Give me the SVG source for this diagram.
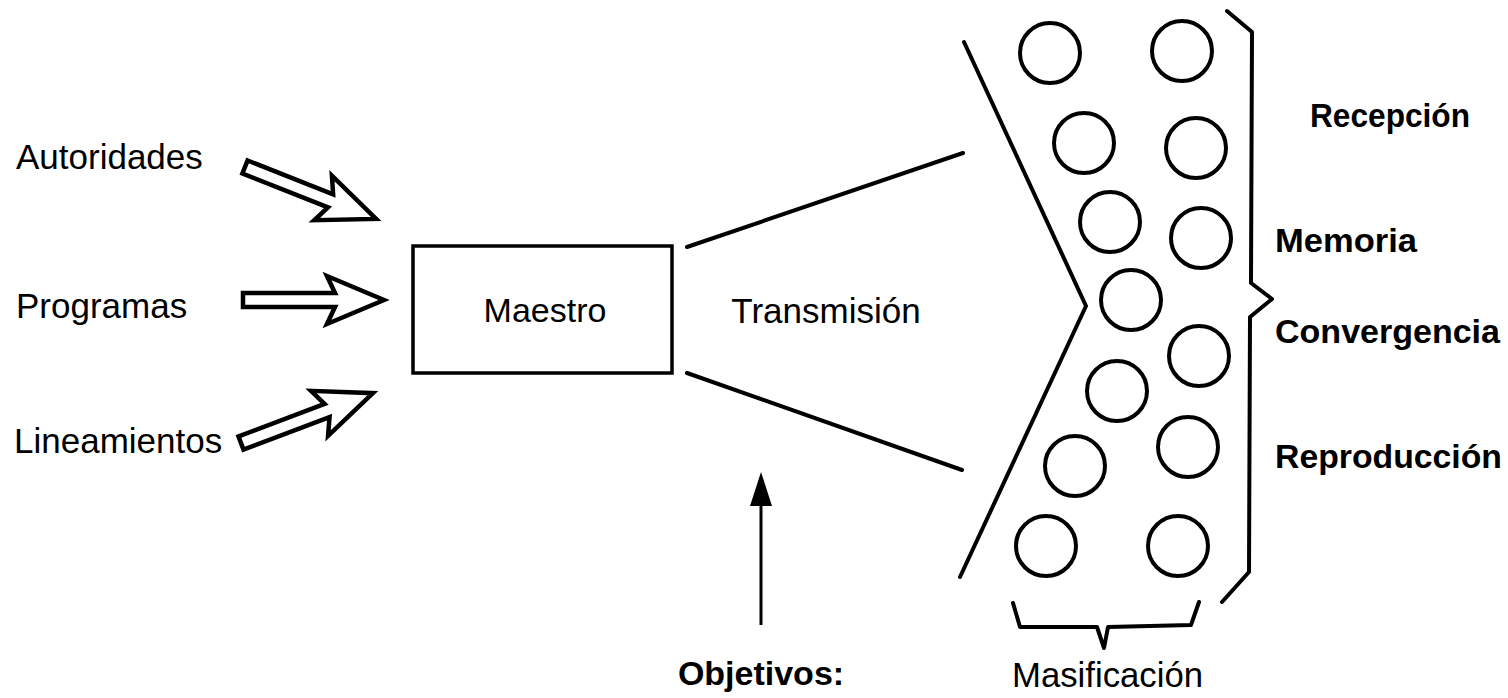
<svg xmlns="http://www.w3.org/2000/svg" width="1508" height="698" viewBox="0 0 1508 698">
<style>
.ln{fill:none;stroke:#000;stroke-width:4;stroke-linecap:round;stroke-linejoin:round}
.c{fill:none;stroke:#000;stroke-width:4}
.t{font-family:"Liberation Sans",Arial,sans-serif;font-size:35px;fill:#000}
.b{font-family:"Liberation Sans",Arial,sans-serif;font-size:34px;font-weight:bold;fill:#000}
.ar{fill:#fff;stroke:#000;stroke-width:4.5;stroke-linejoin:miter}
</style>
<defs>
<polygon id="blk" class="ar" points="0,-7 92,-7 84,-24 141,0 84,24 92,7 0,7"/>
</defs>
<rect width="1508" height="698" fill="#fff"/>
<g id="autoridades"><text class="t" x="16" y="169">Autoridades</text></g>
<g id="programas"><text class="t" x="16" y="318">Programas</text></g>
<g id="lineamientos"><text class="t" x="14" y="453">Lineamientos</text></g>
<g id="maestro"><rect x="413" y="246" width="259" height="127" fill="#fff" stroke="#000" stroke-width="3.5"/><text class="t" x="545" y="322" text-anchor="middle" style="font-size:34px">Maestro</text></g>
<g id="transmision"><text class="t" x="826" y="323" text-anchor="middle">Transmisión</text></g>
<g id="objetivos"><text class="b" x="761" y="685" text-anchor="middle">Objetivos:</text></g>
<g id="masificacion"><text class="t" x="1012" y="687" textLength="191" lengthAdjust="spacingAndGlyphs">Masificación</text></g>
<g id="recepcion"><text class="b" x="1310" y="127" textLength="160" lengthAdjust="spacingAndGlyphs">Recepción</text></g>
<g id="memoria"><text class="b" x="1275" y="252" textLength="142" lengthAdjust="spacingAndGlyphs">Memoria</text></g>
<g id="convergencia"><text class="b" x="1275" y="343" textLength="225" lengthAdjust="spacingAndGlyphs">Convergencia</text></g>
<g id="reproduccion"><text class="b" x="1275" y="468" textLength="227" lengthAdjust="spacingAndGlyphs">Reproducción</text></g>
<g id="masa">
<circle class="c" cx="1050" cy="53" r="30"/>
<circle class="c" cx="1182" cy="51" r="30"/>
<circle class="c" cx="1084" cy="143" r="30"/>
<circle class="c" cx="1196" cy="148" r="30"/>
<circle class="c" cx="1110" cy="222" r="30"/>
<circle class="c" cx="1201" cy="238" r="30"/>
<circle class="c" cx="1131" cy="300" r="30"/>
<circle class="c" cx="1199" cy="356" r="30"/>
<circle class="c" cx="1117" cy="391" r="30"/>
<circle class="c" cx="1188" cy="447" r="30"/>
<circle class="c" cx="1075" cy="466" r="30"/>
<circle class="c" cx="1046" cy="546" r="30"/>
<circle class="c" cx="1178" cy="546" r="30"/>
<polyline class="ln" points="964,42 1086,306 960,577"/>
<polyline class="ln" points="1227,11 1252,32 1251,283 1272,299 1250,317 1249,572 1222,602"/>
<polyline class="ln" points="1013,603 1020,627 1097,627 1104,648 1108,627 1191,625 1199,602"/>
</g>
<g id="connectors">
<use href="#blk" transform="translate(245,167) rotate(21.6)"/>
<use href="#blk" transform="translate(243,300)"/>
<use href="#blk" transform="translate(241,443) rotate(-20.7)"/>
<line class="ln" x1="687" y1="247" x2="963" y2="153"/>
<line class="ln" x1="687" y1="373" x2="962" y2="470"/>
<line x1="761" y1="500" x2="761" y2="625" stroke="#000" stroke-width="3"/>
<polygon points="761,472 750,506 772,506" fill="#000"/>
</g>
</svg>
